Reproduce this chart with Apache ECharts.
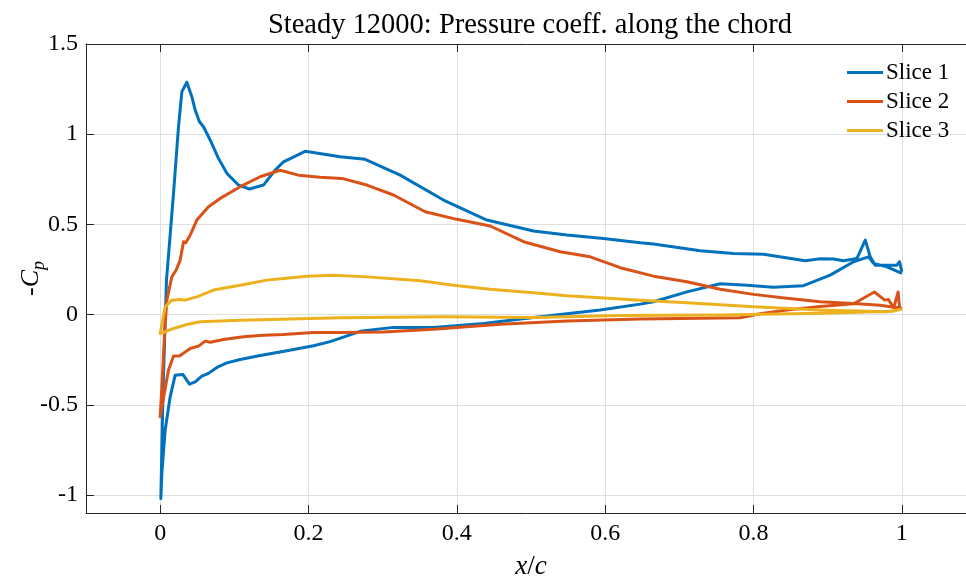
<!DOCTYPE html>
<html>
<head>
<meta charset="utf-8">
<script src="https://cdn.jsdelivr.net/npm/echarts@6/dist/echarts.min.js"></script>
<style>html,body{margin:0;padding:0;background:#fff;}#c{width:966px;height:578px;}</style>
</head>
<body>
<div id="c"></div>
<script>
// ---- data (x/c , -Cp) ----
const xTicks = [0, 0.2, 0.4, 0.6, 0.8, 1];
const yTicks = [-1, -0.5, 0, 0.5, 1, 1.5];
const seriesNames = ['Slice 1', 'Slice 2', 'Slice 3'];

// Slice 1
const s1UpperX = [0.004, 0.0085, 0.018, 0.0247, 0.0293, 0.036, 0.0427, 0.0472, 0.053, 0.0584, 0.0674, 0.0786, 0.0899, 0.1056, 0.1204, 0.1393, 0.155, 0.1663, 0.1955, 0.2427, 0.2764, 0.3236, 0.382, 0.4405, 0.5034, 0.5484, 0.5978, 0.6473, 0.6652, 0.7281, 0.7731, 0.8135, 0.8697, 0.8899, 0.9079, 0.9214, 0.9395, 0.9507, 0.9574, 0.9641, 0.9934, 0.9969, 1.0];
const s1UpperY = [-0.40, 0.19, 0.672, 1.041, 1.236, 1.288, 1.208, 1.134, 1.069, 1.041, 0.968, 0.866, 0.783, 0.718, 0.696, 0.718, 0.801, 0.847, 0.905, 0.875, 0.861, 0.773, 0.635, 0.524, 0.463, 0.441, 0.422, 0.398, 0.391, 0.354, 0.339, 0.334, 0.298, 0.309, 0.308, 0.298, 0.311, 0.413, 0.320, 0.274, 0.274, 0.293, 0.237];
const s1LowerX = [0.0009, 0.0023, 0.0067, 0.0135, 0.0202, 0.0306, 0.0395, 0.0472, 0.0562, 0.0651, 0.0765, 0.0899, 0.1079, 0.1348, 0.1708, 0.2067, 0.2292, 0.2697, 0.3146, 0.3685, 0.436, 0.5034, 0.5933, 0.6473, 0.6652, 0.7102, 0.7551, 0.7911, 0.827, 0.8674, 0.9034, 0.9349, 0.955, 0.9618, 0.98, 1.0];
const s1LowerY = [-1.02, -0.881, -0.641, -0.456, -0.336, -0.332, -0.386, -0.373, -0.341, -0.326, -0.293, -0.268, -0.249, -0.227, -0.201, -0.173, -0.150, -0.093, -0.071, -0.071, -0.049, -0.016, 0.025, 0.058, 0.071, 0.126, 0.171, 0.163, 0.151, 0.160, 0.219, 0.293, 0.320, 0.284, 0.265, 0.228];

// Slice 2
const s2UpperX = [0.0023, 0.006, 0.009, 0.0157, 0.0216, 0.027, 0.0315, 0.0346, 0.0405, 0.0494, 0.0652, 0.0809, 0.1079, 0.1348, 0.1618, 0.1865, 0.2157, 0.245, 0.2787, 0.3146, 0.3573, 0.4, 0.445, 0.4899, 0.5394, 0.5798, 0.6203, 0.6652, 0.7102, 0.7551, 0.8, 0.845, 0.89, 0.9349, 0.9709, 0.9844, 1.0];
const s2UpperY = [-0.40, -0.10, 0.080, 0.209, 0.247, 0.302, 0.404, 0.398, 0.441, 0.524, 0.598, 0.644, 0.709, 0.764, 0.800, 0.773, 0.761, 0.755, 0.718, 0.663, 0.570, 0.528, 0.491, 0.404, 0.348, 0.320, 0.260, 0.213, 0.182, 0.140, 0.112, 0.090, 0.071, 0.062, 0.052, 0.043, 0.035];
const s2LowerX = [0.0, 0.0023, 0.0112, 0.018, 0.026, 0.0405, 0.0517, 0.0607, 0.0674, 0.0854, 0.1123, 0.1393, 0.1663, 0.2067, 0.2427, 0.3011, 0.3685, 0.4585, 0.5484, 0.6473, 0.7821, 0.8091, 0.845, 0.89, 0.935, 0.963, 0.977, 0.982, 0.989, 0.995, 0.997, 1.0];
const s2LowerY = [-0.567, -0.512, -0.308, -0.230, -0.230, -0.188, -0.175, -0.147, -0.153, -0.138, -0.123, -0.114, -0.110, -0.099, -0.099, -0.096, -0.082, -0.053, -0.036, -0.025, -0.018, 0.005, 0.025, 0.045, 0.060, 0.125, 0.080, 0.084, 0.037, 0.125, 0.034, 0.030];

// Slice 3
const s3UpperX = [0.0067, 0.0157, 0.027, 0.0337, 0.0494, 0.0719, 0.1079, 0.1438, 0.1663, 0.1978, 0.2337, 0.2787, 0.3506, 0.3955, 0.445, 0.5034, 0.5484, 0.5933, 0.6473, 0.7102, 0.8, 0.89, 0.98, 1.0];
const s3UpperY = [0.043, 0.080, 0.084, 0.080, 0.098, 0.136, 0.163, 0.191, 0.200, 0.213, 0.218, 0.209, 0.187, 0.163, 0.141, 0.121, 0.104, 0.093, 0.080, 0.065, 0.043, 0.025, 0.016, 0.030];
const s3LowerX = [0.0, 0.0067, 0.018, 0.036, 0.0539, 0.1079, 0.1753, 0.2427, 0.382, 0.5034, 0.6203, 0.7551, 0.89, 0.9889, 1.0];
const s3LowerY = [-0.105, -0.096, -0.077, -0.055, -0.040, -0.031, -0.025, -0.018, -0.012, -0.016, -0.005, -0.003, 0.007, 0.019, 0.030];

const colors = ['#0072BD', '#D95319', '#EDB120'];

function loop(ux, uy, lx, ly) {
  const pts = [];
  for (let i = ux.length - 1; i >= 0; i--) pts.push([ux[i], uy[i]]);
  for (let i = 0; i < lx.length; i++) pts.push([lx[i], ly[i]]);
  return pts;
}
const loops = [
  loop(s1UpperX, s1UpperY, s1LowerX, s1LowerY),
  loop(s2UpperX, s2UpperY, s2LowerX, s2LowerY),
  loop(s3UpperX, s3UpperY, s3LowerX, s3LowerY)
];

const FONT = 'Liberation Serif';
const axisCol = '#262626';
const gridCol = '#dfdfdf';

const chart = echarts.init(document.getElementById('c'), null, {renderer: 'canvas'});
chart.setOption({
  animation: false,
  backgroundColor: '#ffffff',
  color: colors,
  title: {
    text: 'Steady 12000: Pressure coeff. along the chord',
    left: 525, top: 6, textAlign: 'center',
    textStyle: {fontFamily: FONT, fontSize: 28.5, fontWeight: 'normal', color: '#000'}
  },
  legend: {
    orient: 'vertical', left: 847, top: 61, padding: 0,
    icon: 'rect', itemWidth: 36, itemHeight: 3, itemGap: 6,
    textStyle: {fontFamily: FONT, fontSize: 23, color: '#000', lineHeight: 23, padding: [0,0,0,-2]},
    data: seriesNames
  },
  grid: {left: 86, right: -10, top: 44, bottom: 65, containLabel: false, outerBoundsMode: 'none'},
  xAxis: [{
    type: 'value', min: -0.1, max: 1.1, position: 'bottom',
    name: '{i|x}{r|/}{i|c}', nameLocation: 'middle', nameGap: 40,
    nameTextStyle: {rich: {
      i: {fontFamily: FONT, fontSize: 27, fontStyle: 'italic', color: '#000'},
      r: {fontFamily: FONT, fontSize: 27, color: '#000'}
    }},
    axisLine: {onZero: false, lineStyle: {color: axisCol, width: 1}},
    axisTick: {inside: true, length: 8, customValues: xTicks, lineStyle: {color: axisCol}},
    axisLabel: {customValues: xTicks, fontFamily: FONT, fontSize: 24, color: '#000', margin: 9},
    splitLine: {show: true, lineStyle: {color: gridCol, width: 1}}
  }, {
    type: 'value', min: -0.1, max: 1.1, position: 'top',
    axisLine: {onZero: false, lineStyle: {color: axisCol, width: 1}},
    axisTick: {inside: true, length: 8, customValues: xTicks, lineStyle: {color: axisCol}},
    axisLabel: {show: false},
    splitLine: {show: false}
  }],
  yAxis: [{
    type: 'value', min: -1.1, max: 1.5,
    name: '{n|-}{c|C}{s|p}', nameLocation: 'middle', nameGap: 38, nameRotate: 90, nameMoveOverlap: false,
    nameTextStyle: {rich: {
      n: {fontFamily: FONT, fontSize: 26, color: '#000', lineHeight: 34},
      c: {fontFamily: FONT, fontSize: 26, fontStyle: 'italic', color: '#000', lineHeight: 34},
      s: {fontFamily: FONT, fontSize: 18, fontStyle: 'italic', color: '#000', lineHeight: 18, verticalAlign: 'bottom'}
    }},
    axisLine: {show: true, onZero: false, lineStyle: {color: axisCol, width: 1}},
    axisTick: {show: true, inside: true, length: 8, customValues: yTicks, lineStyle: {color: axisCol}},
    axisLabel: {customValues: yTicks, fontFamily: FONT, fontSize: 24, color: '#000', margin: 8},
    splitLine: {show: true, lineStyle: {color: gridCol, width: 1}}
  }],
  series: loops.map((d, k) => ({
    name: seriesNames[k], type: 'line', data: d, xAxisIndex: 0, yAxisIndex: 0,
    symbol: 'none', showSymbol: false, smooth: false,
    lineStyle: {width: 3, color: colors[k], join: 'round'},
    itemStyle: {color: colors[k]}
  }))
});
</script>
</body>
</html>
